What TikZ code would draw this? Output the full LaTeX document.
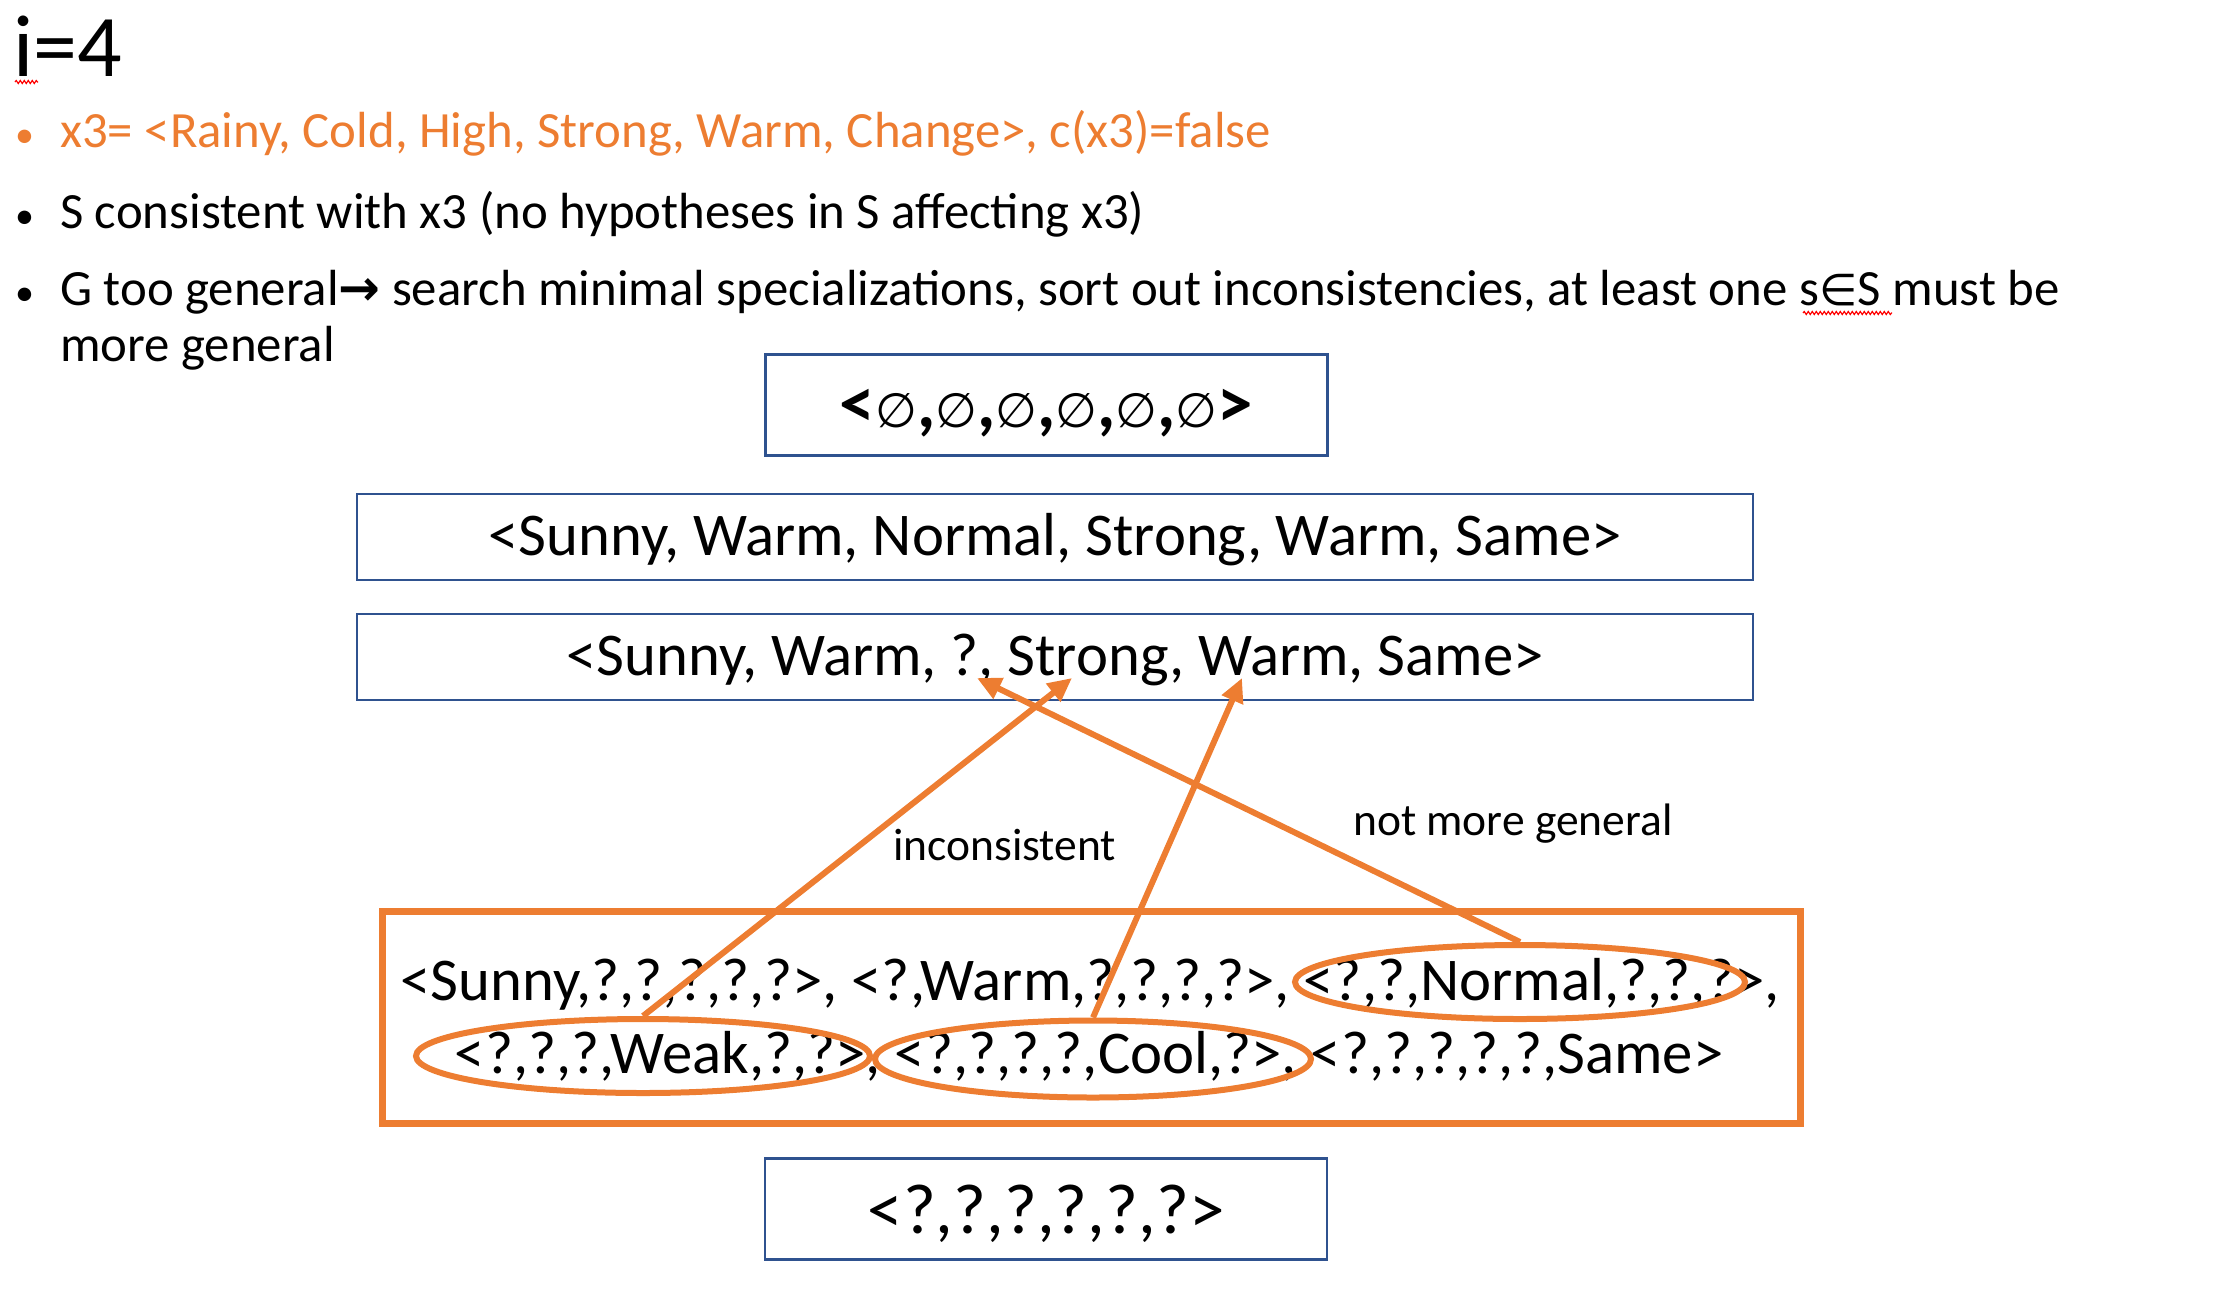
\documentclass[tikz,border=0pt]{standalone}
\usepackage{fontspec}
\setmainfont{Carlito}
\newfontfamily\symfont{DejaVu Sans}
\usetikzlibrary{shapes.geometric,arrows.meta,decorations.pathmorphing}

\definecolor{slideorange}{HTML}{ED7D31}
\definecolor{slideblue}{HTML}{2F528F}

\newcommand{\nullval}{{\symfont\mdseries\fontsize{48}{56}\selectfont ∅}}
\newcommand{\dotmark}{{\fontsize{38}{44}\selectfont •}}

\tikzset{
  bullettext/.style={anchor=base west, inner sep=0pt, font=\fontsize{50.8}{57}\selectfont},
  labeltext/.style={anchor=base west, inner sep=0pt, font=\fontsize{45.5}{52}\selectfont},
  hypbox/.style={draw=slideblue, line width=2.5pt, inner sep=0pt, font=\fontsize{60.7}{68}\selectfont,
    text height=46pt, text depth=10pt},
  gbox/.style={draw=slideorange, line width=7pt, inner sep=0pt},
  gline/.style={anchor=base, inner sep=0pt, font=\fontsize{60.7}{68}\selectfont},
  hypring/.style={shape=ellipse, draw=slideorange, line width=6pt, inner sep=0pt},
  pointer/.style={draw=slideorange, line width=6pt, -{Triangle[length=24pt,width=22pt]}},
  squiggle/.style={draw=red, line width=1.2pt, decorate,
    decoration={snake, amplitude=1.5pt, segment length=4pt}}
}

\begin{document}
\begin{tikzpicture}[x=1pt,y=-1pt]
    \useasboundingbox (0,0) rectangle (2238,1294);

    \node[anchor=base west, inner sep=0pt, font=\fontsize{88}{94}\selectfont] (title) at (13,76) {i=4};
    \draw[squiggle] (15,82) -- (38,82);

    \node[bullettext, text=slideorange] (dot1) at (15,147) {\dotmark};
    \node[bullettext, text=slideorange] (line1) at (60,147) {x3= <Rainy, Cold, High, Strong, Warm, Change>, c(x3)=false};
    \node[bullettext] (dot2) at (15,228) {\dotmark};
    \node[bullettext] (line2) at (60,228) {S consistent with x3 (no hypotheses in S affecting x3)};
    \node[bullettext] (dot3) at (15,305) {\dotmark};
    \node[bullettext] (line3) at (60,305) {G too general{\symfont\bfseries\fontsize{50}{54}\selectfont →} search minimal specializations, sort out inconsistencies, at least one s{\symfont\fontsize{44}{50}\selectfont ∈}S must be};
    \node[bullettext] (line4) at (60,361) {more general};
    \draw[squiggle] (1803,313) -- (1892,313);

    \node[hypbox, minimum width=562pt, minimum height=101pt, text height=60pt, text depth=16pt,
      font=\bfseries\fontsize{71}{78}\selectfont] (empty) at (1046.5,405) {<\nullval,\nullval,\nullval,\nullval,\nullval,\nullval>};
    \node[hypbox, minimum width=1396pt, minimum height=86pt] (s1) at (1055,537) {<Sunny, Warm, Normal, Strong, Warm, Same>};
    \node[hypbox, minimum width=1396pt, minimum height=86pt] (s2) at (1055,657) {<Sunny, Warm, ?, Strong, Warm, Same>};
    \node[hypbox, minimum width=562pt, minimum height=101pt, text height=54pt, text depth=6pt,
      font=\fontsize{71}{78}\selectfont] (full) at (1046,1209) {<?,?,?,?,?,?>};

    \node[gbox, minimum width=1418pt, minimum height=212pt] (G) at (1091.5,1017.5) {};
    \node[gline] (g1) at (1090,1000) {<Sunny,?,?,?,?,?>, <?,Warm,?,?,?,?>, <?,?,Normal,?,?,?>,};
    \node[gline] (g2) at (1089,1073) {<?,?,?,Weak,?,?>, <?,?,?,?,Cool,?>, <?,?,?,?,?,Same>};

    \node[hypring, minimum width=454pt, minimum height=74pt] (weak) at (643,1056) {};
    \node[hypring, minimum width=436pt, minimum height=77pt] (cool) at (1093,1059) {};
    \node[hypring, minimum width=450pt, minimum height=74pt] (normal) at (1520,982) {};

    \coordinate (qmark) at (977,678);
    \coordinate (strongpos) at (1072,678);
    \coordinate (warmpos) at (1242,678);

    \draw [pointer] (weak.north) -- (strongpos);
    \draw [pointer] (cool.north) -- (warmpos);
    \draw [pointer] (normal.north) -- (qmark);

    \node[labeltext] (inconsistent) at (893,860) {inconsistent};
    \node[labeltext] (notgeneral) at (1353,835) {not more general};
\end{tikzpicture}
\end{document}
